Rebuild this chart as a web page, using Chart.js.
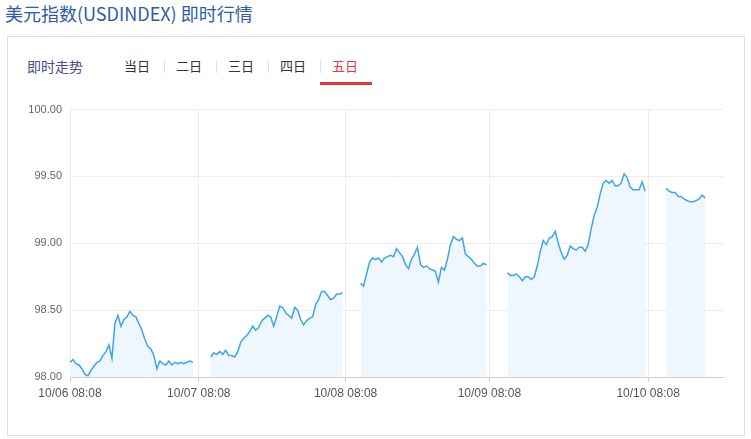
<!DOCTYPE html>
<html>
<head>
<meta charset="utf-8">
<script src="https://cdn.jsdelivr.net/npm/chart.js@4/dist/chart.umd.min.js"></script>
<style>
  body { margin: 0; background: #fff; font-family: "Noto Sans CJK SC", "Noto Sans", sans-serif; }
  #title { position: absolute; left: 5px; top: 0; height: 26px; line-height: 26px; font-size: 18px; color: #2d5ea8; white-space: nowrap; }
  #panel { position: absolute; left: 7px; top: 36px; width: 736px; height: 398px; border: 1px solid #dcdfe5; }
  .tab { position: absolute; top: 56px; height: 20px; line-height: 20px; font-size: 13px; color: #333; white-space: nowrap; }
  #mode { position: absolute; left: 27px; top: 55px; height: 22px; line-height: 22px; font-size: 14px; color: #4a4d8f; }
  .sep { position: absolute; top: 60px; width: 1px; height: 13px; background: #e2e2e2; }
  #underline { position: absolute; left: 320px; top: 82px; width: 52px; height: 3px; background: #e8363b; }
  #wrap { position: absolute; left: 8px; top: 95px; width: 736px; height: 335px; }
</style>
</head>
<body>
<div id="title">美元指数(USDINDEX) 即时行情</div>
<div id="panel"></div>
<div id="mode">即时走势</div>
<span class="tab" style="left:124px">当日</span>
<span class="sep" style="left:164px"></span>
<span class="tab" style="left:176px">二日</span>
<span class="sep" style="left:216px"></span>
<span class="tab" style="left:228px">三日</span>
<span class="sep" style="left:268px"></span>
<span class="tab" style="left:280px">四日</span>
<span class="sep" style="left:320px"></span>
<span class="tab" style="left:332px;color:#e8363b">五日</span>
<div id="underline"></div>
<div id="wrap"><canvas id="usdChart" width="736" height="335"></canvas></div>
<script>
// intraday samples, one array per trading day
const day1 = [98.11, 98.13, 98.10, 98.09, 98.06, 98.02, 98.01, 98.05, 98.08, 98.11,
  98.12, 98.16, 98.19, 98.24, 98.14, 98.40, 98.46, 98.38, 98.43, 98.45,
  98.49, 98.46, 98.45, 98.40, 98.35, 98.28, 98.23, 98.21, 98.16, 98.06,
  98.12, 98.10, 98.09, 98.12, 98.09, 98.11, 98.10, 98.11, 98.10, 98.11,
  98.12, 98.11];
const day2 = [98.15, 98.18, 98.17, 98.19, 98.17, 98.20, 98.16, 98.16, 98.15, 98.19,
  98.26, 98.29, 98.31, 98.34, 98.38, 98.35, 98.37, 98.42, 98.44, 98.46,
  98.45, 98.38, 98.45, 98.53, 98.52, 98.48, 98.46, 98.44, 98.52, 98.50,
  98.43, 98.39, 98.42, 98.44, 98.45, 98.54, 98.58, 98.64, 98.64, 98.61,
  98.58, 98.59, 98.62, 98.62, 98.63];
const day3 = [98.70, 98.68, 98.77, 98.86, 98.89, 98.88, 98.89, 98.86, 98.89, 98.90,
  98.91, 98.90, 98.96, 98.93, 98.90, 98.84, 98.81, 98.88, 98.92, 98.97,
  98.84, 98.82, 98.83, 98.81, 98.80, 98.79, 98.71, 98.82, 98.80, 98.88,
  98.99, 99.05, 99.03, 99.02, 99.04, 98.92, 98.90, 98.88, 98.85, 98.83,
  98.83, 98.85, 98.84];
const day4 = [98.78, 98.76, 98.76, 98.77, 98.75, 98.72, 98.75, 98.75, 98.73, 98.75,
  98.83, 98.94, 99.02, 98.99, 99.04, 99.05, 99.09, 99.00, 98.93, 98.88,
  98.91, 98.98, 98.96, 98.95, 98.97, 98.97, 98.94, 98.99, 99.11, 99.21,
  99.27, 99.37, 99.45, 99.47, 99.45, 99.47, 99.43, 99.43, 99.45, 99.52,
  99.49, 99.42, 99.40, 99.40, 99.40, 99.46, 99.39];
const day5 = [99.41, 99.39, 99.38, 99.38, 99.35, 99.35, 99.33, 99.32, 99.31, 99.31,
  99.32, 99.33, 99.36, 99.34];

// slot where each day starts on the x axis (gaps between sessions)
const dayStart = [0, 47, 97, 146, 199];
const totalSlots = 218;

// x axis labels and the slot they sit on
const tickLabels = ['10/06 08:08', '10/07 08:08', '10/08 08:08', '10/09 08:08', '10/10 08:08'];
const tickSlots = [0, 43, 92, 140, 193];

const yTicks = [98, 98.5, 99, 99.5, 100];

const days = [day1, day2, day3, day4, day5];

const datasets = days.map((vals, d) => ({
  data: vals.map((v, i) => ({ x: dayStart[d] + i, y: v })),
  borderColor: '#3fa4ee',
  backgroundColor: '#eff7fe',
  borderWidth: 1.5,
  pointRadius: 0,
  tension: 0,
  fill: 'start'
}));

const ctx = document.getElementById('usdChart').getContext('2d');
new Chart(ctx, {
  type: 'line',
  data: { datasets: datasets },
  options: {
    responsive: false,
    animation: false,
    devicePixelRatio: 1,
    layout: { padding: { left: 0, right: 21, top: 13, bottom: 0 } },
    plugins: { legend: { display: false }, tooltip: { enabled: false } },
    scales: {
      x: {
        type: 'linear',
        min: 0,
        max: totalSlots,
        afterBuildTicks: axis => {
          axis.ticks = tickSlots.map(v => ({ value: v }));
        },
        afterFit: scale => { scale.height = 53; },
        ticks: {
          autoSkip: false,
          maxRotation: 0,
          padding: 4,
          color: '#555',
          font: { family: 'Liberation Sans', size: 12 },
          callback: value => tickLabels[tickSlots.indexOf(value)]
        },
        grid: { color: '#ececec', tickColor: '#cfcfcf', tickLength: 5 },
        border: { color: '#d0d0d0', width: 1 }
      },
      y: {
        min: yTicks[0],
        max: yTicks[yTicks.length - 1],
        afterBuildTicks: axis => {
          axis.ticks = yTicks.map(v => ({ value: v }));
        },
        afterFit: scale => { scale.width = 62; },
        ticks: {
          padding: 8,
          color: '#666',
          font: { family: 'Liberation Sans', size: 11 },
          callback: value => Number(value).toFixed(2)
        },
        grid: { color: '#ececec', drawTicks: false },
        border: { display: false }
      }
    }
  }
});
</script>
</body>
</html>
